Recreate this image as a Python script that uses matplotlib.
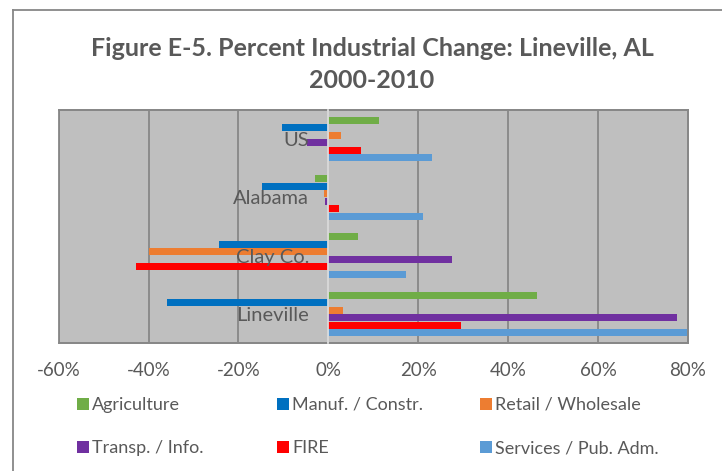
import numpy as np
from matplotlib import pyplot as plt
from matplotlib.lines import Line2D
from matplotlib.patches import Rectangle
from matplotlib.ticker import PercentFormatter

places = ["US", "Alabama", "Clay Co.", "Lineville"]
sectors = [
    "Agriculture",
    "Manuf. / Constr.",
    "Retail / Wholesale",
    "Transp. / Info.",
    "FIRE",
    "Services / Pub. Adm.",
]
colors = ["#70AD47", "#0070C0", "#ED7D31", "#7030A0", "#FF0000", "#5B9BD5"]

# percent change per sector, one value per place (US, Alabama, Clay Co., Lineville)
agriculture = [11.3, -3.0, 6.6, 46.3]
manufacturing = [-10.3, -14.8, -24.3, -36.0]
retail = [2.9, -1.0, -39.8, 3.3]
transport = [-4.7, -0.8, 27.6, 77.6]
fire = [7.3, 2.4, -42.9, 29.4]
services = [23.1, 21.1, 17.3, 79.7]

ticks = [-60, -40, -20, 0, 20, 40, 60, 80]

GRAY = "#595959"
plt.rcParams["font.family"] = ["Lato", "DejaVu Sans"]
plt.rcParams["axes.unicode_minus"] = False

fig = plt.figure(figsize=(7.22, 4.71), dpi=100)
W, H = 722, 471

# plot area in pixels: left 58.7, right 688, top 110, bottom 343
ax = fig.add_axes([58.7 / W, 1 - 343 / H, (688 - 58.7) / W, (343 - 110) / H])
ax.set_facecolor("#BFBFBF")

series = [agriculture, manufacturing, retail, transport, fire, services]
n = len(series)
h = 0.77 / n
y = np.arange(len(places))
for j, (vals, label, c) in enumerate(zip(series, sectors, colors)):
    ax.barh(y + (j - (n - 1) / 2) * h, vals, height=h * 0.95, color=c,
            label=label, zorder=1)

ax.set_xlim(-60, 80)
ax.set_ylim(len(places) - 0.5, -0.5)
ax.set_xticks(ticks)
ax.xaxis.set_major_formatter(PercentFormatter(decimals=0))
ax.set_yticks(y, places)
ax.grid(axis="x", color="#878787", lw=1.3)
ax.set_axisbelow(True)
ax.yaxis.set_zorder(5)  # category names sit on top of the bars

ax.spines["left"].set_position(("data", 0))
ax.spines["left"].set_color("#E6E6E6")
ax.spines["left"].set_linewidth(1.2)
ax.spines["left"].set_zorder(3)
for s in ["top", "right", "bottom"]:
    ax.spines[s].set_color("#878787")
    ax.spines[s].set_linewidth(1.3)
ax.add_patch(Rectangle((0, 0), 1, 1, transform=ax.transAxes, fill=False,
                       edgecolor="#878787", lw=1.3, clip_on=False, zorder=3))

ax.tick_params(axis="x", length=0, pad=14, labelsize=13.5, labelcolor=GRAY)
ax.tick_params(axis="y", length=0, pad=14, labelsize=14.5, labelcolor=GRAY)

fig.text(372 / W, 1 - 48 / H, "Figure E-5. Percent Industrial Change: Lineville, AL",
         ha="center", va="center", fontsize=18, fontweight="bold", color=GRAY)
fig.text(372 / W, 1 - 80 / H, "2000-2010",
         ha="center", va="center", fontsize=18, fontweight="bold", color=GRAY)

# outer chart border (only left and top visible in the crop)
fig.add_artist(Line2D([12.7 / W, 12.7 / W], [0, 1 - 10 / H], color="#878787", lw=1.3))
fig.add_artist(Line2D([12.7 / W, 1], [1 - 10 / H, 1 - 10 / H], color="#878787", lw=1.3))

handles, labels = ax.get_legend_handles_labels()
for col, x0 in enumerate([77, 277, 480]):
    leg = fig.legend(handles[col::3], labels[col::3], loc="upper left",
                     bbox_to_anchor=(x0 / W, 1 - 397 / H), frameon=False,
                     handlelength=0.65, handleheight=0.65, handletextpad=0.2,
                     labelspacing=1.5, fontsize=13, labelcolor=GRAY,
                     borderpad=0, borderaxespad=0)

fig.savefig("out.png", dpi=100)
